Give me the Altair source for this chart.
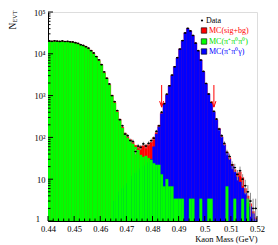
import altair as alt
import numpy as np
import pandas as pd

# ---------------- data ----------------
bin_width = 0.001
n_bins = 80
bin_low = [round(0.44 + bin_width * i, 4) for i in range(n_bins)]

# MC(pi+ pi0 pi0)  (green)
mc_3pi = [19500, 19800, 19600, 19700, 19400, 19500, 19300, 19100, 18900, 18500,
          18000, 17000, 16200, 15300, 14500, 13000, 11700, 9900, 8400, 6800,
          5400, 3460, 2570, 1790, 980, 665, 405, 261, 168, 120,
          96, 82, 70, 59, 50, 38, 34, 36, 32, 29,
          24, 22, 22, 13, 6.7, 10, 6.7, 6.7, 3.4, 3.4,
          3.4, 3.4, 0, 0, 3.4, 3.4, 0, 0, 3.4, 0,
          0, 3.4, 3.4, 0, 0, 0, 0, 0, 6.7, 0,
          0, 3.4, 0, 0, 3.4, 0, 3.4, 0, 0, 0]

# MC(pi+ pi0 gamma)  (blue)
mc_sig = [0, 0, 0, 0, 0, 0, 0, 0, 0, 0,
          0, 0, 0, 0, 0, 0, 0, 0, 0, 0,
          0, 0, 0, 0, 0, 3, 4, 5, 6, 7,
          8, 10, 12, 14, 16, 18, 20, 22, 25, 30,
          60, 120, 180, 370, 640, 1030, 1700, 3000, 4850, 7900,
          13000, 20300, 31600, 40000, 35200, 27000, 18100, 11670, 7110, 3700,
          1900, 1100, 660, 405, 261, 160, 102, 66, 42, 30,
          20.6, 14.9, 11.3, 8.6, 6.2, 4.7, 3.2, 2.2, 1.5, 1.1]

# MC(sig+bg)  (red)
mc_total = [20100, 20300, 20200, 20300, 20000, 20100, 19900, 19700, 19500, 19100,
            18600, 17600, 16700, 15800, 15000, 13500, 12100, 10300, 8700, 7050,
            5600, 3600, 2680, 1860, 1030, 700, 425, 275, 178, 128,
            104, 90, 78, 65, 60, 62, 64, 66, 68, 78,
            100, 132, 195, 385, 660, 1060, 1740, 3060, 4930, 8000,
            13150, 20500, 31900, 40400, 35600, 27300, 18300, 11800, 7200, 3760,
            1930, 1120, 672, 414, 268, 165, 106, 69, 45, 33,
            23, 17, 14, 15, 11, 6, 4, 2.6, 1.7, 1.2]

# Data
data_counts = [20300, 19900, 20500, 20100, 19800, 20300, 19700, 19900, 19400, 19200,
               18400, 17800, 16500, 15900, 14800, 13700, 11900, 10500, 8600, 7200,
               5500, 3700, 2600, 1900, 1000, 720, 440, 265, 190, 120,
               110, 84, 80, 46, 62, 58, 70, 62, 72, 84,
               96, 140, 190, 400, 640, 1080, 1720, 3100, 4900, 8100,
               13000, 20700, 31500, 40800, 35300, 27500, 18000, 11900, 7100, 3800,
               1950, 1090, 690, 420, 275, 158, 110, 72, 44, 35,
               22, 19, 13, 16, 10, 7, 5, 3, 2, 2]

cut_masses = [0.4835, 0.5035]
arrow_top = 1790
arrow_tip = 530

x_major = [0.44, 0.45, 0.46, 0.47, 0.48, 0.49, 0.50, 0.51, 0.52]
x_minor = [round(0.44 + 0.002 * k, 3) for k in range(41) if k % 5 != 0]
y_major = [1, 10, 100, 1000, 10000, 100000]
y_minor = [m * 10 ** d for d in range(5) for m in range(2, 10)]

# ---------------- build ----------------
SERIF = "Liberation Serif"
W, H = 209, 209

df = pd.DataFrame({
    "lo": bin_low,
    "green": mc_3pi,
    "blue": mc_sig,
    "red": mc_total,
    "data": data_counts,
})
df["hi"] = df["lo"] + bin_width
df["mid"] = df["lo"] + bin_width / 2
df["err_lo"] = df["data"] - np.sqrt(df["data"])
df["err_hi"] = df["data"] + np.sqrt(df["data"])

xs = alt.Scale(domain=[0.44, 0.52], nice=False, zero=False)
ys = alt.Scale(type="log", domain=[1, 100000], nice=False)

# the "1" label at the axis origin is drawn separately (ROOT puts it further left)
y_label_expr = ("datum.value < 5 ? '' : datum.value < 50 ? '10\u00a0\u00a0' : "
                "datum.value < 500 ? '10\u00b2' : datum.value < 5000 ? '10\u00b3' : "
                "datum.value < 50000 ? '10\u2074' : '10\u2075'")

x_axis = alt.Axis(values=x_major, format=".2~f", ticks=False, grid=False,
                  labelFont=SERIF, labelFontSize=8.5, labelPadding=3, labelFlush=False,
                  labelOverlap=False, labelColor="black",
                  domainColor="black", domainWidth=1,
                  title="Kaon Mass (GeV)", titleFont=SERIF, titleFontSize=8.5,
                  titleFontWeight="normal", titleAnchor="end", titlePadding=2,
                  titleColor="black")
y_axis = alt.Axis(values=y_major, labelExpr=y_label_expr, ticks=False, grid=False,
                  labelFont=SERIF, labelFontSize=8.5, labelPadding=3, labelFlush=False,
                  labelOverlap=False, labelColor="black",
                  domainColor="black", domainWidth=1, title=None)

base = alt.Chart(df)


def hist(field, color):
    return base.transform_filter(f"datum.{field} > 0").mark_rect(
        color=color, stroke=color, strokeWidth=0.3, clip=True
    ).encode(
        x=alt.X("lo:Q", scale=xs, axis=x_axis),
        x2="hi:Q",
        y=alt.Y(f"{field}:Q", scale=ys, axis=y_axis),
        y2=alt.datum(1),
    )


red = hist("red", "#ff0000")
blue = hist("blue", "#0000ff")
green = hist("green", "#00ff00")

err = base.mark_rule(color="#8c8c8c", strokeWidth=1, clip=True).encode(
    x=alt.X("mid:Q", scale=xs, axis=x_axis),
    y=alt.Y("err_lo:Q", scale=ys, axis=y_axis),
    y2="err_hi:Q",
)
dseg = base.mark_rule(color="black", strokeWidth=1, clip=True).encode(
    x=alt.X("lo:Q", scale=xs, axis=x_axis),
    x2="hi:Q",
    y=alt.Y("data:Q", scale=ys, axis=y_axis),
)
dpt = base.mark_circle(color="black", size=3, opacity=1, clip=True).encode(
    x=alt.X("mid:Q", scale=xs, axis=x_axis),
    y=alt.Y("data:Q", scale=ys, axis=y_axis),
)

# cut arrows
arr_df = pd.DataFrame({"m": cut_masses, "top": [arrow_top] * 2, "tip": [arrow_tip] * 2})
arr_line = alt.Chart(arr_df).mark_rule(color="#ff0000", strokeWidth=1).encode(
    x=alt.X("m:Q", scale=xs, axis=x_axis),
    y=alt.Y("top:Q", scale=ys, axis=y_axis),
    y2="tip:Q",
)
arr_head = alt.Chart(arr_df).mark_point(
    shape="M-1,-3L0,0L1,-3", size=16, filled=False, color="#ff0000", strokeWidth=1, opacity=1
).encode(
    x=alt.X("m:Q", scale=xs, axis=x_axis),
    y=alt.Y("tip:Q", scale=ys, axis=y_axis),
)

# inward ticks
def xticks(vals, length):
    return alt.Chart(pd.DataFrame({"v": vals})).mark_rule(color="black", strokeWidth=1).encode(
        x=alt.X("v:Q", scale=xs, axis=x_axis), y=alt.value(H), y2=alt.value(H - length))


def yticks(vals, length):
    return alt.Chart(pd.DataFrame({"v": vals})).mark_rule(color="black", strokeWidth=1).encode(
        y=alt.Y("v:Q", scale=ys, axis=y_axis), x=alt.value(0), x2=alt.value(length))


one = pd.DataFrame({"k": [0]})


def txt(s, x, y, color="black", size=8, angle=0, align="left"):
    return alt.Chart(one).mark_text(
        text=s, font=SERIF, fontSize=size, color=color, align=align,
        baseline="middle", angle=angle
    ).encode(x=alt.value(x), y=alt.value(y))


def box(x, y, color):
    return alt.Chart(one).mark_square(
        size=30, color=color, opacity=1, stroke="black", strokeWidth=0.6
    ).encode(x=alt.value(x), y=alt.value(y))


legend = [
    alt.Chart(one).mark_circle(size=5, color="black", opacity=1).encode(
        x=alt.value(154), y=alt.value(8.5)),
    txt("Data", 158, 8.5),
    box(156, 18.5, "#ff0000"), txt("MC(sig+bg)", 161, 18.5, "#ff0000"),
    box(156, 29.5, "#00ff00"), txt("MC(\u03c0\u207a\u03c0\u2070\u03c0\u2070)", 161, 29.5, "#00e000"),
    box(156, 39.5, "#0000ff"), txt("MC(\u03c0\u207a\u03c0\u2070\u03b3)", 161, 39.5, "#0000ff"),
]

ytitle = [
    txt("N", -35, 14, size=9.5, angle=270, align="center"),
    txt("EVT", -33, 4.5, size=6, angle=270, align="center"),
]

origin_label = txt("1", -8, 206.5, size=8.5, align="right")

chart = alt.layer(
    red, blue, green, err, dseg, dpt, arr_line, arr_head,
    xticks(x_major, 5), xticks(x_minor, 2.5), yticks(y_major, 5), yticks(y_minor, 2.5),
    *legend, *ytitle, origin_label,
).properties(
    width=W, height=H,
    autosize=alt.AutoSizeParams(type="none"),
    padding={"left": 40, "top": 4, "right": 13, "bottom": 24},
).configure_view(
    stroke="#888888", strokeWidth=1.5
).configure(background="white")

chart.save("out.html", embed_options={"renderer": "svg", "actions": False})
